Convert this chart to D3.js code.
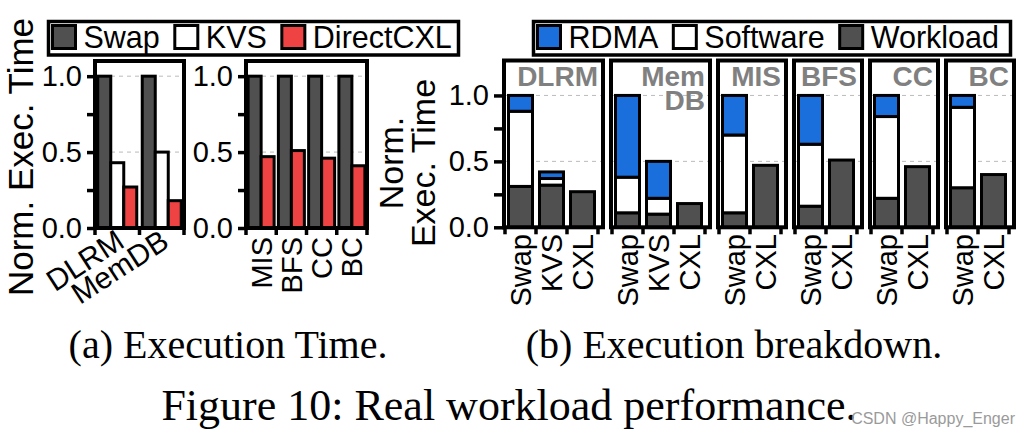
<!DOCTYPE html>
<html><head><meta charset="utf-8">
<script src="https://cdn.jsdelivr.net/npm/d3@7"></script>
<style>body{margin:0;background:#fff} svg{display:block}</style>
</head><body><svg id="c" width="1021" height="437"></svg>
<script>
// ---------- Panel (a) data ----------
const aGroups1 = ["DLRM", "MemDB"];
const aGroups2 = ["MIS", "BFS", "CC", "BC"];
const aSeries = ["Swap", "KVS", "DirectCXL"];
const aSwap1 = [1.0, 1.0];
const aKVS1 = [0.43, 0.50];
const aCXL1 = [0.27, 0.18];
const aSwap2 = [1.0, 1.0, 1.0, 1.0];
const aCXL2 = [0.47, 0.51, 0.46, 0.41];
const yTicks = [0, 0.25, 0.5, 0.75, 1.0];
const yTickLabels = ["0.0", "", "0.5", "", "1.0"];

// ---------- Panel (b) data ----------
const bGroups = ["DLRM", "MemDB", "MIS", "BFS", "CC", "BC"];
const bTitles = [["DLRM"], ["Mem", "DB"], ["MIS"], ["BFS"], ["CC"], ["BC"]];
const bBars = [["Swap","KVS","CXL"], ["Swap","KVS","CXL"], ["Swap","CXL"], ["Swap","CXL"], ["Swap","CXL"], ["Swap","CXL"]];
const bSeries = ["RDMA", "Software", "Workload"];
const bWorkload = [[0.31, 0.32, 0.27], [0.11, 0.10, 0.18], [0.11, 0.47], [0.16, 0.51], [0.22, 0.46], [0.30, 0.40]];
const bSoftware = [[0.57, 0.05, 0], [0.27, 0.12, 0], [0.59, 0], [0.47, 0], [0.62, 0], [0.61, 0]];
const bRDMA = [[0.12, 0.05, 0], [0.62, 0.28, 0], [0.30, 0], [0.37, 0], [0.16, 0], [0.09, 0]];

// ---------- styles ----------
const SANS = "'Liberation Sans', Arial, Helvetica, sans-serif";
const SERIF = "'Liberation Serif', 'Times New Roman', serif";
const colA = {"Swap": "#505050", "KVS": "#ffffff", "DirectCXL": "#ef4343"};
const colB = {"RDMA": "#1b6fdc", "Software": "#ffffff", "Workload": "#505050"};

const svg = d3.select("#c");

function styleAxis(ax, tw) {
  ax.select(".domain").remove();
  ax.selectAll(".tick line").attr("stroke", "#000").attr("stroke-width", tw);
  ax.selectAll(".tick text").attr("font-size", 29).attr("font-family", SANS).attr("fill", "#000");
}

// ---------- Panel (a) ----------
const yA = d3.scaleLinear().domain([0, 1.1]).range([228, 61]);
function drawA(x0, x1, groups, series, cols) {
  const g = svg.append("g");
  const x = d3.scaleBand().domain(groups).range([x0, x1]);
  const bw = 13;
  [0.5, 1.0].forEach(v => g.append("line").attr("x1", x0).attr("x2", x1)
    .attr("y1", yA(v)).attr("y2", yA(v)).attr("stroke", "#bbb").attr("stroke-width", 1).attr("stroke-dasharray", "4,4"));
  groups.forEach((grp, i) => {
    const start = x(grp) + (x.bandwidth() - bw * series.length) / 2;
    series.forEach((s, j) => {
      const v = cols[j][i];
      g.append("rect").attr("x", start + j * bw).attr("y", yA(v))
        .attr("width", bw).attr("height", yA(0) - yA(v))
        .attr("fill", colA[s]).attr("stroke", "#000").attr("stroke-width", 3);
    });
  });
  g.append("rect").attr("x", x0).attr("y", yA.range()[1]).attr("width", x1 - x0)
    .attr("height", yA(0) - yA.range()[1]).attr("fill", "none").attr("stroke", "#000").attr("stroke-width", 4);
  const ax = g.append("g").attr("transform", `translate(${x0},0)`)
    .call(d3.axisLeft(yA).tickValues(yTicks).tickFormat((d, i) => yTickLabels[i]).tickSize(8).tickPadding(5));
  styleAxis(ax, 3.5);
  groups.map(d => x(d)).concat([x1]).forEach(b => g.append("line")
    .attr("x1", b).attr("x2", b).attr("y1", yA(0)).attr("y2", yA(0) + 7).attr("stroke", "#000").attr("stroke-width", 3.5));
  return x;
}
const xA1 = drawA(95, 184, aGroups1, aSeries, [aSwap1, aKVS1, aCXL1]);
aGroups1.forEach(d => {
  const cx = xA1(d) + xA1.bandwidth() / 2 + 9;
  svg.append("text").attr("transform", `translate(${cx},246) rotate(-33)`)
    .attr("text-anchor", "end").attr("font-size", 30).attr("font-family", SANS).text(d);
});
const xA2 = drawA(246, 367, aGroups2, ["Swap", "DirectCXL"], [aSwap2, aCXL2]);
aGroups2.forEach(d => {
  const cx = xA2(d) + xA2.bandwidth() / 2 + 10.5;
  svg.append("text").attr("transform", `translate(${cx},237) rotate(-90)`)
    .attr("text-anchor", "end").attr("font-size", 29).attr("font-family", SANS).text(d);
});
svg.append("text").attr("transform", "translate(33,157) rotate(-90)").attr("text-anchor", "middle")
  .attr("font-size", 35).attr("font-family", SANS).text("Norm. Exec. Time");

// ---------- Panel (b) ----------
const yB = d3.scaleLinear().domain([0, 1.265]).range([227.3, 60.5]);
let fx = 502;
bGroups.forEach((grp, gi) => {
  const bars = bBars[gi];
  const n = bars.length;
  const w = n * 31 + 10;
  const x0 = fx + 2, x1 = fx + w - 2;
  const g = svg.append("g");
  const x = d3.scaleBand().domain(bars).range([x0 + 1, x0 + 1 + n * 31]);
  [0.5, 1.0].forEach(v => g.append("line").attr("x1", x0).attr("x2", x1)
    .attr("y1", yB(v)).attr("y2", yB(v)).attr("stroke", "#bbb").attr("stroke-width", 1).attr("stroke-dasharray", "4,4"));
  const rows = bars.map((b, j) => ({bar: b, Workload: bWorkload[gi][j], Software: bSoftware[gi][j], RDMA: bRDMA[gi][j]}));
  const stacked = d3.stack().keys(["Workload", "Software", "RDMA"])(rows);
  stacked.forEach(layer => {
    layer.forEach(d => {
      if (d[1] - d[0] <= 0) return;
      g.append("rect").attr("x", x(d.data.bar) + 3.5).attr("width", 24)
        .attr("y", yB(d[1])).attr("height", yB(d[0]) - yB(d[1]))
        .attr("fill", colB[layer.key]).attr("stroke", "#000").attr("stroke-width", 3);
    });
  });
  g.append("rect").attr("x", x0).attr("y", yB.range()[1]).attr("width", x1 - x0)
    .attr("height", yB(0) - yB.range()[1]).attr("fill", "none").attr("stroke", "#000").attr("stroke-width", 4);
  const tt = g.append("text").attr("text-anchor", "end").attr("font-size", 28).attr("font-weight", "bold")
    .attr("font-family", SANS).attr("fill", "#808080");
  bTitles[gi].forEach((t, k) => tt.append("tspan").attr("x", fx + w - 7).attr("y", 86 + k * 24).text(t));
  bars.map(b => x(b)).concat([x0 + 1 + n * 31]).forEach(b => g.append("line")
    .attr("x1", b).attr("x2", b).attr("y1", yB(0)).attr("y2", yB(0) + 7).attr("stroke", "#000").attr("stroke-width", 3.5));
  bars.forEach(b => {
    const cx = x(b) + x.bandwidth() / 2 + 10.5;
    g.append("text").attr("transform", `translate(${cx},234) rotate(-90)`)
      .attr("text-anchor", "end").attr("font-size", 29).attr("font-family", SANS).text(b);
  });
  if (gi === 0) {
    const ax = g.append("g").attr("transform", `translate(${x0},0)`)
      .call(d3.axisLeft(yB).tickValues(yTicks).tickFormat((d, i) => yTickLabels[i]).tickSize(10).tickPadding(5));
    styleAxis(ax, 3.5);
  }
  fx += w + 4;
});
svg.append("text").attr("transform", "translate(403,163) rotate(-90)").attr("text-anchor", "middle")
  .attr("font-size", 34).attr("font-family", SANS).text("Norm.");
svg.append("text").attr("transform", "translate(435,163) rotate(-90)").attr("text-anchor", "middle")
  .attr("font-size", 34).attr("font-family", SANS).text("Exec. Time");

// ---------- legends ----------
function legend(x, y, w, keys, colors) {
  const g = svg.append("g");
  g.append("rect").attr("x", x).attr("y", y).attr("width", w).attr("height", 33.5)
    .attr("fill", "#fff").attr("stroke", "#000").attr("stroke-width", 3.5);
  let sx = x + 4;
  keys.forEach(k => {
    g.append("rect").attr("x", sx).attr("y", y + 4).attr("width", 23).attr("height", 23)
      .attr("fill", colors[k]).attr("stroke", "#000").attr("stroke-width", 3);
    const t = g.append("text").attr("x", sx + 31).attr("y", y + 26).attr("font-size", 30.5)
      .attr("font-family", SANS).text(k);
    sx = sx + 31 + t.node().getComputedTextLength() + 15;
  });
}
legend(48.5, 21.5, 410, aSeries, colA);
legend(533.5, 21.5, 477, ["RDMA", "Software", "Workload"], colB);

// ---------- captions ----------
svg.append("text").attr("x", 228).attr("y", 358).attr("text-anchor", "middle").attr("font-size", 40)
  .attr("font-family", SERIF).text("(a) Execution Time.");
svg.append("text").attr("x", 734).attr("y", 358).attr("text-anchor", "middle").attr("font-size", 40)
  .attr("font-family", SERIF).text("(b) Execution breakdown.");
svg.append("text").attr("x", 509).attr("y", 420).attr("text-anchor", "middle").attr("font-size", 44)
  .attr("font-family", SERIF).text("Figure 10: Real workload performance.");
svg.append("text").attr("x", 1015).attr("y", 424).attr("text-anchor", "end").attr("font-size", 16)
  .attr("font-family", SANS).attr("fill", "#9a9a9a").text("CSDN @Happy_Enger");
</script>
</body></html>
